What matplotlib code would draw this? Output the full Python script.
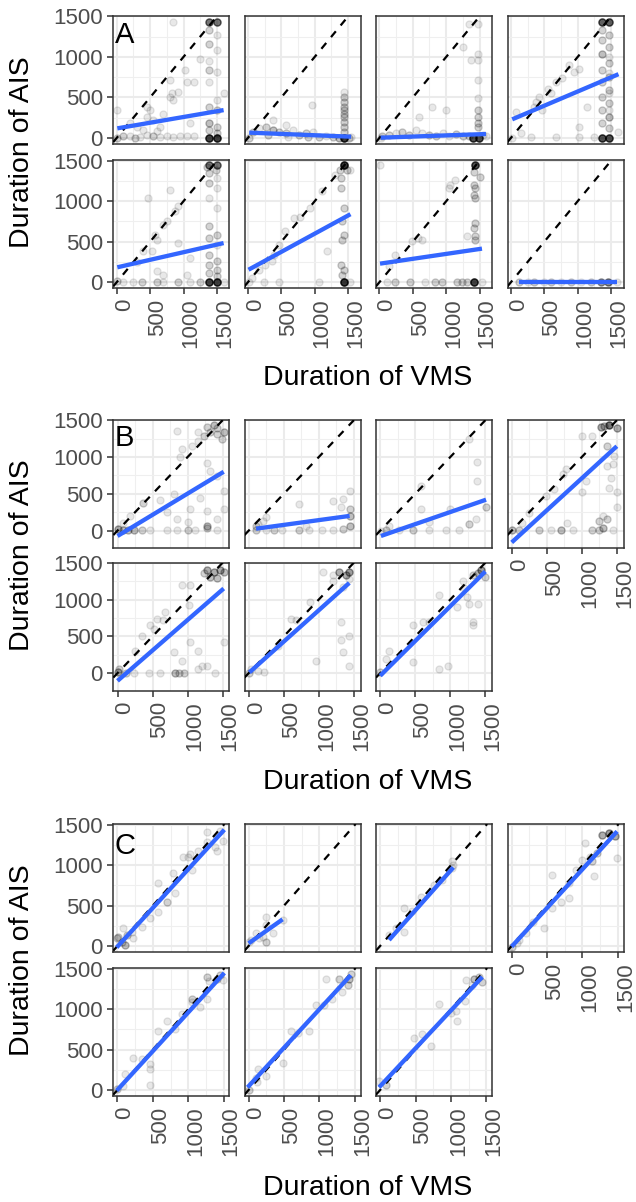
import numpy as np
import matplotlib.pyplot as plt
from matplotlib.transforms import ScaledTranslation

plt.rcParams["font.family"] = ["Liberation Sans", "DejaVu Sans"]

# ---- data: duration of VMS (x), duration of AIS (y), number of stacked records ----
# section A, panels row-major
a1_vms = [1385, 1500, 1375, 1500, 850, 1385, 1500, 1385, 1500, 1385, 1385, 1500, 1385, 1500, 1385, 1500, 1385, 1500, 1385, 1500, 1600, 1250, 0,
          100, 200, 275, 350, 450, 550, 650, 750, 850, 950, 1050, 1150, 10,
          450, 450, 550, 650, 800, 825, 800, 925, 1025, 1150, 1050, 850, 1100, 500, 200, 300, 700, 600, 400]
a1_ais = [0, 0, 1430, 1430, 1430, 1330, 1270, 1165, 1080, 955, 835, 815, 690, 467, 385, 345, 180, 140, 100, 60, 550, 980, 345,
          20, 20, 0, 10, 40, 20, 10, 20, 10, 20, 25, 20, 0,
          385, 260, 220, 140, 715, 550, 505, 570, 835, 690, 690, 467, 180, 345, 180, 140, 300, 90, 100]
a1_n = [14, 14, 8, 8, 1, 2, 1, 2, 1, 1, 2, 1, 1, 1, 2, 2, 3, 2, 2, 2, 1, 1, 1,
        2, 1, 2, 1, 1, 2, 1, 1, 1, 1, 1, 1, 2,
        1, 1, 1, 1, 1, 1, 1, 1, 1, 1, 1, 1, 1, 1, 1, 1, 1, 1, 1]

a2_vms = [1445, 1445, 1445, 1445, 1445, 1445, 1445, 1445, 1445, 1445, 1445, 1520, 960,
          70, 170, 270, 370, 470, 570, 670, 770, 870, 970, 1070, 1170, 1270, 1370, 20, 370, 570, 300, 600, 900, 1545]
a2_ais = [0, 570, 510, 450, 385, 340, 300, 260, 200, 140, 80, 0, 405,
          78, 120, 140, 100, 78, 57, 100, 37, 57, 78, 16, 25, 16, 4, 0, 220, 160, 40, 10, 10, 10]
a2_n = [15, 1, 2, 2, 2, 2, 2, 2, 2, 2, 2, 2, 1,
        2, 1, 2, 3, 2, 2, 1, 2, 2, 1, 2, 1, 2, 3, 2, 1, 1, 2, 1, 2, 1]

a3_vms = [1395, 1495, 1470, 1470, 1470, 1470, 1470, 1470, 1470, 1470, 1470, 1345, 1245, 1370, 795, 995, 595,
          45, 145, 245, 345, 445, 545, 645, 745, 845, 945, 1045, 1145, 1245, 1345, 20, 1595, 1550]
a3_ais = [0, 0, 1410, 1040, 960, 715, 490, 345, 260, 180, 140, 1410, 1125, 960, 385, 345, 260,
          20, 40, 60, 80, 40, 100, 60, 40, 20, 60, 25, 50, 20, 25, 0, 20, 40]
a3_n = [12, 12, 1, 1, 1, 1, 1, 2, 2, 2, 2, 1, 1, 1, 1, 1, 1,
        2, 2, 1, 2, 2, 1, 1, 2, 2, 1, 1, 2, 2, 2, 1, 1, 1]

a4_vms = [1360, 1470, 1360, 1470, 1360, 1470, 1360, 1470, 1360, 1470, 1360, 1470, 1360, 1470, 1360, 1470, 1360, 1470, 1360, 1470,
          1470, 1470, 1470, 1470, 870, 945, 770, 1020, 670, 600, 550, 420, 370, 345, 470, 70, 1145, 1020,
          295, 670, 1020, 1245, 1610, 20, 150]
a4_ais = [1430, 1430, 1330, 1270, 1205, 1125, 1040, 920, 835, 755, 690, 590, 510, 430, 345, 260, 180, 120, 0, 0,
          1000, 800, 550, 340, 900, 815, 735, 855, 690, 560, 600, 510, 445, 385, 345, 325, 385, 140,
          16, 16, 16, 16, 80, 0, 60]
a4_n = [10, 10, 2, 2, 2, 2, 3, 2, 2, 2, 2, 2, 2, 2, 2, 3, 2, 2, 12, 12,
        1, 1, 1, 1, 1, 1, 1, 1, 1, 1, 1, 1, 1, 1, 1, 1, 1, 1,
        1, 1, 1, 1, 1, 1, 1]

a5_vms = [1375, 1500, 1350, 1490, 1375, 1500, 1375, 1500, 1375, 1500, 1375, 1500, 1375, 1500, 1375, 1500, 1375, 1500, 1375, 1500,
          1375, 1500, 475, 800, 925, 875, 700, 750, 575, 600, 400, 525, 925, 1100, 1050, 600, 700, 300,
          100, 250, 375, 600, 700, 925, 1100, 1250, 1600, 10]
a5_ais = [1447, 1447, 1420, 1380, 1345, 1285, 1220, 1160, 1040, 915, 690, 585, 545, 465, 340, 260, 215, 155, 115, 75,
          0, 0, 1040, 1140, 935, 875, 710, 750, 585, 525, 380, 380, 485, 300, 95, 135, 95, 250,
          0, 0, 0, 0, 0, 0, 0, 0, 0, 10]
a5_n = [8, 8, 2, 2, 2, 1, 2, 1, 1, 1, 2, 2, 2, 1, 2, 2, 2, 2, 2, 2,
        14, 14, 1, 1, 1, 1, 1, 1, 1, 1, 1, 1, 1, 1, 1, 1, 1, 1,
        1, 1, 2, 2, 1, 2, 1, 2, 1, 2]

a6_vms = [1435, 1385, 1485, 1400, 1400, 1435, 1410, 1435, 1410, 1400, 1435, 1410,
          1310, 1110, 935, 785, 685, 560, 460, 385, 360, 260, 160, 60, 1185,
          235, 460, 1060, 1435, 10, 1535, 1535]
a6_ais = [1447, 1380, 1380, 1285, 1160, 915, 750, 585, 525, 215, 155, 95,
          1325, 1120, 915, 810, 790, 627, 465, 340, 260, 215, 155, 53, 380,
          0, 0, 0, 0, 0, 0, 1380]
a6_n = [16, 2, 2, 2, 2, 2, 2, 2, 2, 2, 2, 2,
        1, 1, 1, 1, 1, 1, 1, 1, 1, 1, 1, 1, 1,
        1, 1, 1, 16, 1, 1, 1]

a7_vms = [1435, 1410, 1510, 1410, 1435, 1410, 1435, 1435, 1410, 1435, 1435,
          1060, 1135, 1035, 585, 635, 485, 235, 1310, 10, 150,
          110, 235, 460, 685, 835, 935, 1160, 1235, 1310, 1410, 1535]
a7_ais = [1447, 1365, 1300, 1200, 1160, 1080, 1040, 730, 670, 565, 525,
          1200, 1260, 1160, 545, 525, 505, 340, 565, 1447, 200,
          0, 0, 0, 0, 0, 0, 0, 0, 0, 0, 0]
a7_n = [12, 2, 2, 2, 2, 2, 2, 2, 2, 2, 2,
        1, 1, 1, 1, 1, 1, 1, 1, 1, 1,
        1, 2, 2, 1, 2, 2, 2, 2, 2, 14, 1]

a8_vms = [125, 250, 350, 500, 600, 750, 900, 1050, 1200, 1350, 1450, 1585]
a8_ais = [0, 0, 0, 0, 0, 0, 0, 0, 0, 0, 0, 0]
a8_n = [2, 1, 2, 1, 2, 1, 2, 1, 2, 5, 6, 1]

# section B
b1_vms = [1275, 1370, 1420, 1490, 1515, 1420, 1325, 1230, 1155, 1060, 1155,
          847, 920, 895, 1275, 1325, 1420, 1515, 1180, 800, 1040, 1275, 1420, 1515, 1275, 847, 370, 180, 85, 600, 700, 1000,
          0, 85, 150, 230, 350, 470, 700, 850, 1000, 1100, 1275, 1420]
b1_ais = [1405, 1430, 1390, 1245, 1335, 1310, 1335, 1290, 1220, 1155, 1335,
          1360, 1110, 995, 925, 815, 745, 540, 450, 495, 290, 270, 155, 290, 64, 155, 380, 200, 110, 420, 250, 120,
          20, 10, 10, 10, 10, 10, 10, 10, 10, 10, 40, 10]
b1_n = [2, 3, 2, 2, 3, 2, 2, 2, 1, 1, 1,
        1, 1, 1, 1, 1, 1, 1, 1, 1, 1, 1, 1, 1, 3, 1, 2, 1, 1, 1, 1, 1,
        4, 3, 3, 3, 2, 1, 1, 1, 2, 1, 2, 1]

b2_vms = [105, 130, 200, 250, 720, 1200, 1340, 1440, 1440, 1440, 1440, 1320, 820,
          105, 250, 365, 480, 720, 860, 1050, 1200, 1340]
b2_ais = [65, 90, 130, 180, 360, 405, 430, 540, 290, 200, 65, 315, 65,
          10, 10, 10, 10, 10, 10, 10, 10, 20]
b2_n = [2, 1, 1, 1, 1, 1, 1, 1, 2, 3, 3, 1, 1,
        2, 1, 2, 1, 2, 1, 1, 1, 2]

b3_vms = [1270, 1385, 1385, 1510, 580, 580, 1365, 1270, 130, 700, 1000,
          80, 270, 465, 700, 940, 1130, 10]
b3_ais = [1245, 930, 680, 315, 610, 290, 155, 85, 65, 120, 300,
          10, 10, 10, 10, 10, 10, 0]
b3_n = [1, 1, 1, 2, 1, 1, 1, 2, 1, 1, 1,
        2, 1, 2, 1, 1, 1, 1]

b4_vms = [1270, 1390, 1500, 1320, 1010, 1150, 1365, 1460, 1365, 1415, 1390, 1500, 1500, 1055, 1010, 725, 770, 605, 485,
          250, 150, 795, 1245, 1365, 1300, 1450,
          0, 100, 390, 560, 700, 870, 1150, 1300, 1250, 1450]
b4_ais = [1405, 1430, 1390, 1420, 1290, 1290, 1155, 1020, 880, 720, 585, 520, 315, 680, 520, 770, 835, 565, 475,
          245, 110, 110, 130, 155, 200, 900,
          10, 10, 10, 10, 10, 10, 10, 40, 10, 10]
b4_n = [4, 8, 4, 3, 1, 1, 2, 1, 1, 1, 1, 1, 1, 1, 1, 1, 1, 1, 1,
        1, 1, 1, 2, 2, 1, 1,
        3, 2, 2, 1, 3, 1, 2, 3, 2, 1]

b5_vms = [1275, 1370, 1465, 1320, 1420, 1515, 1230,
          920, 1040, 1015, 560, 655, 465, 515, 345, 1040, 1155, 800, 920, 1515, 680, 250, 1200,
          0, 20, 120, 240, 450, 610, 820, 880, 950, 1155, 1275, 1390]
b5_ais = [1400, 1380, 1400, 1310, 1290, 1380, 1360,
          1195, 1195, 925, 740, 720, 650, 600, 510, 420, 305, 285, 170, 420, 830, 300, 100,
          10, 60, 0, 0, 0, 0, 0, 0, 0, 55, 100, 0]
b5_n = [4, 4, 4, 3, 3, 3, 2,
        1, 1, 1, 1, 1, 1, 1, 1, 1, 1, 1, 1, 1, 1, 1, 1,
        4, 2, 2, 1, 1, 1, 3, 2, 2, 1, 1, 1]

b6_vms = [1295, 1435, 1390, 1055, 1200, 1340, 1320, 1320, 1435, 1435, 1340, 960, 605, 680, 870, 415,
          35, 130, 225, 10, 1200, 1430]
b6_ais = [1380, 1380, 1335, 1380, 1335, 1175, 695, 445, 510, 100, 285, 170, 740, 720, 970, 375,
          55, 30, 10, 0, 1250, 1280]
b6_n = [4, 5, 4, 1, 1, 1, 1, 1, 1, 1, 1, 1, 1, 1, 1, 1,
        1, 1, 1, 2, 1, 1]

b7_vms = [1440, 1390, 1320, 1175, 1200, 1245, 1270, 845, 605, 465, 1320, 1330, 1390, 465, 845, 965, 130, 80, 0,
          1100, 1500, 700]
b7_ais = [1400, 1355, 1335, 1245, 1150, 1040, 945, 1060, 695, 650, 695, 650, 945, 145, 55, 100, 305, 190, 10,
          900, 1300, 690]
b7_n = [5, 3, 2, 1, 1, 1, 1, 1, 1, 1, 1, 1, 1, 1, 1, 1, 1, 1, 2,
        1, 2, 1]

# section C
c1_vms = [-10, 15, 60, 108, 132, 85, 202, 226, 343, 460, 578, 696, 813, 578, 790, 930, 1025, 1048, 1142,
          1260, 1260, 1377, 1400, 1495, 1000, 1450]
c1_ais = [95, 116, 54, 12, 137, 220, 178, 95, 240, 343, 426, 550, 654, 786, 910, 1097, 1138, 944, 1180,
          1407, 1283, 1221, 1180, 1304, 1100, 1430]
c1_n = [2, 2, 2, 3, 2, 1, 1, 1, 1, 1, 1, 2, 1, 1, 1, 1, 1, 1, 1,
        1, 1, 1, 1, 1, 1, 1]

c2_vms = [103, 197, 245, 245, 245, 340, 33, 0, 150, 480]
c2_ais = [157, 116, 365, 260, 54, 157, 75, 50, 100, 320]
c2_n = [1, 1, 1, 1, 2, 1, 1, 1, 1, 1]

c3_vms = [1020, 1020, 573, 338, 338, 127, 220, 880, 760, 1034, 450]
c3_ais = [1047, 965, 613, 468, 178, 137, 220, 820, 757, 1000, 430]
c3_n = [1, 1, 1, 1, 1, 1, 1, 1, 1, 1, 1]

c4_vms = [1278, 1372, 1466, 1490, 1043, 1137, 1160, 997, 903, 573, 808, 808, 691, 573, 456, 197, 103, 10, 80,
          1200, 1100, 300]
c4_ais = [1378, 1400, 1358, 1089, 1275, 1047, 861, 1068, 944, 882, 778, 592, 550, 468, 220, 157, 75, -8, 40,
          1150, 1100, 300]
c4_n = [4, 5, 4, 1, 1, 2, 1, 1, 1, 1, 1, 1, 1, 1, 1, 1, 1, 2, 1,
        2, 1, 1]

c5_vms = [0, 108, 226, 460, 460, 460, 578, 696, 813, 907, 1048, 1048, 1165, 1260, 1260, 1400, 1495, 85, 350, 1450, 1300]
c5_ais = [10, 192, 400, 67, 254, 320, 734, 859, 755, 942, 1130, 1090, 1026, 1130, 1401, 1380, 1359, 50, 380, 1420, 1350]
c5_n = [2, 1, 1, 1, 1, 1, 1, 1, 1, 1, 2, 1, 1, 1, 2, 2, 1, 1, 1, 2, 1]

c6_vms = [0, 103, 127, 245, 480, 597, 855, 950, 1067, 1184, 1090, 1278, 1419, 1443, 1325, 1400, 700, 120]
c6_ais = [0, 150, 254, 171, 338, 734, 734, 1047, 1047, 1130, 1380, 1380, 1380, 1442, 1213, 1300, 700, 100]
c6_n = [2, 1, 1, 1, 1, 1, 1, 1, 1, 1, 1, 2, 3, 2, 1, 2, 1, 1]

c7_vms = [-15, 80, 480, 597, 714, 832, 1090, 1067, 1208, 1325, 1443, 1400, 1000, 1200, 1300]
c7_ais = [108, 67, 650, 692, 546, 1067, 859, 984, 1359, 1380, 1338, 1400, 950, 1100, 1300]
c7_n = [1, 2, 1, 1, 1, 1, 1, 1, 1, 3, 2, 2, 1, 1, 1]

# linear fits (geom_smooth lm) per panel: intercept, slope, x range
a_intercept = [117.6, 66.7, 3.4, 223.0, 183.0, 150.5, 228.8, 5.0]
a_slope = [0.1415, -0.0328, 0.0286, 0.3503, 0.188, 0.449, 0.1213, 0.0]
a_xmin = [10, 20, 20, 20, 10, 10, 10, 125]
a_xmax = [1600, 1545, 1595, 1610, 1600, 1535, 1535, 1585]

b_intercept = [-73.0, 13.0, -76.0, -160.0, -105.0, 1.5, -35.0]
b_slope = [0.576, 0.1298, 0.3287, 0.871, 0.828, 0.853, 0.944]
b_xmin = [0, 105, 10, 0, 0, 10, 0]
b_xmax = [1515, 1440, 1510, 1500, 1515, 1435, 1500]

c_intercept = [-8.0, 33.0, -51.0, -8.0, 1.6, 47.0, 47.0]
c_slope = [0.959, 0.619, 0.99, 0.958, 0.959, 0.953, 0.938]
c_xmin = [-10, 0, 127, 0, -10, -15, -15]
c_xmax = [1510, 480, 1034, 1490, 1510, 1443, 1443]

ticks = [0, 500, 1000, 1500]
minor_ticks = [250, 750, 1250]

W, H = 636, 1202
COL_LEFT = [113.3, 244.5, 376.0, 507.5]
PANEL_W, PANEL_H = 116.0, 128.3
GREY_TEXT = "#4D4D4D"
GREY_LINE = "#333333"

fig = plt.figure(figsize=(W / 100, H / 100), dpi=100)


def add_panel(left, top):
    return fig.add_axes([left / W, 1 - (top + PANEL_H) / H, PANEL_W / W, PANEL_H / H])


def style_panel(ax, xlim, ylim, show_x, show_y):
    ax.set_xlim(xlim)
    ax.set_ylim(ylim)
    ax.set_xticks(ticks)
    ax.set_yticks(ticks)
    ax.set_xticks(minor_ticks, minor=True)
    ax.set_yticks(minor_ticks, minor=True)
    ax.grid(which="major", color="#EBEBEB", linewidth=1.5)
    ax.grid(which="minor", color="#EFEFEF", linewidth=0.8)
    ax.set_axisbelow(True)
    for sp in ax.spines.values():
        sp.set_color(GREY_LINE)
        sp.set_linewidth(1.1)
    ax.tick_params(which="minor", length=0)
    ax.tick_params(which="major", length=4.0, width=1.1, color=GREY_LINE,
                   labelsize=16, labelcolor=GREY_TEXT, pad=3.5)
    if not show_y:
        ax.tick_params(axis="y", length=0, labelleft=False)
    if show_x:
        offset = ScaledTranslation(-3 / 100, 0, fig.dpi_scale_trans)
        for lab in ax.get_xticklabels():
            lab.set_rotation(90)
            lab.set_ha("left")
            lab.set_transform(lab.get_transform() + offset)
    else:
        ax.tick_params(axis="x", length=0, labelbottom=False)


def draw_panel(ax, vms, ais, n, b0, b1, xmin, xmax):
    ax.scatter(np.repeat(vms, n), np.repeat(ais, n), s=26,
               facecolor=(0, 0, 0, 0.09), edgecolor=(0, 0, 0, 0.1), linewidth=0.9, zorder=2)
    ax.axline((0, 0), slope=1, color="black", linewidth=1.6, linestyle=(0, (3.4, 3.4)), zorder=3)
    xs = np.array([xmin, xmax])
    ax.plot(xs, b0 + b1 * xs, color="#3366FF", linewidth=3.1, solid_capstyle="butt", zorder=4)


sections = [
    dict(label="A", tops=[15.7, 160.0], xlim=(-50, 1685), ylim=(-74, 1508),
         pts=[(a1_vms, a1_ais, a1_n), (a2_vms, a2_ais, a2_n), (a3_vms, a3_ais, a3_n), (a4_vms, a4_ais, a4_n),
              (a5_vms, a5_ais, a5_n), (a6_vms, a6_ais, a6_n), (a7_vms, a7_ais, a7_n), (a8_vms, a8_ais, a8_n)],
         fit=(a_intercept, a_slope, a_xmin, a_xmax), lab_y=43.3, ylab_y=152, xlab_y=378),
    dict(label="B", tops=[420.0, 562.5], xlim=(-60, 1595), ylim=(-240, 1503),
         pts=[(b1_vms, b1_ais, b1_n), (b2_vms, b2_ais, b2_n), (b3_vms, b3_ais, b3_n), (b4_vms, b4_ais, b4_n),
              (b5_vms, b5_ais, b5_n), (b6_vms, b6_ais, b6_n), (b7_vms, b7_ais, b7_n)],
         fit=(b_intercept, b_slope, b_xmin, b_xmax), lab_y=445.5, ylab_y=555, xlab_y=782),
    dict(label="C", tops=[824.0, 968.0], xlim=(-58, 1580), ylim=(-78, 1511),
         pts=[(c1_vms, c1_ais, c1_n), (c2_vms, c2_ais, c2_n), (c3_vms, c3_ais, c3_n), (c4_vms, c4_ais, c4_n),
              (c5_vms, c5_ais, c5_n), (c6_vms, c6_ais, c6_n), (c7_vms, c7_ais, c7_n)],
         fit=(c_intercept, c_slope, c_xmin, c_xmax), lab_y=853.5, ylab_y=960, xlab_y=1188),
]

for sec in sections:
    npanel = len(sec["pts"])
    b0s, b1s, x0s, x1s = sec["fit"]
    for i in range(npanel):
        row, col = divmod(i, 4)
        ax = add_panel(COL_LEFT[col], sec["tops"][row])
        bottom_of_col = (i + 4 >= npanel)
        style_panel(ax, sec["xlim"], sec["ylim"], bottom_of_col, col == 0)
        vms, ais, n = sec["pts"][i]
        draw_panel(ax, vms, ais, n, b0s[i], b1s[i], x0s[i], x1s[i])
    fig.text(115 / W, 1 - sec["lab_y"] / H, sec["label"], fontsize=21, color="black",
             ha="left", va="baseline")
    fig.text(22 / W, 1 - sec["ylab_y"] / H, "Duration of AIS", fontsize=20.5, rotation=90,
             ha="center", va="center")
    fig.text(368 / W, 1 - sec["xlab_y"] / H, "Duration of VMS", fontsize=20.5,
             ha="center", va="center")

fig.savefig("out.png", dpi=100, facecolor="white")
